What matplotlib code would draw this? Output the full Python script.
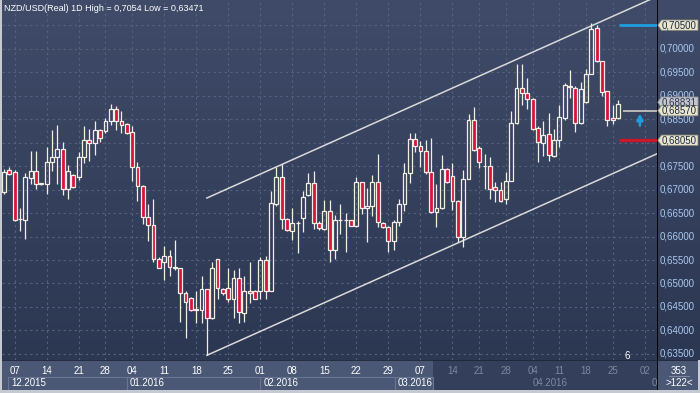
import numpy as np
import matplotlib.pyplot as plt
from matplotlib.patches import Polygon, Rectangle
from matplotlib.colors import LinearSegmentedColormap

# NZD/USD daily candles (Dec 2015 - Apr 2016)
opens = [0.6695, 0.6742, 0.6737, 0.6637, 0.6635, 0.6725, 0.6740, 0.6712, 0.6712, 0.6759,
         0.6770, 0.6787, 0.6701, 0.6731, 0.6727, 0.6770, 0.6806, 0.6800, 0.6827, 0.6825,
         0.6845, 0.6872, 0.6847, 0.6840, 0.6823, 0.6748, 0.6708, 0.6641, 0.6624, 0.6553,
         0.6545, 0.6558, 0.6536, 0.6532, 0.6479, 0.6470, 0.6444, 0.6444, 0.6489, 0.6427,
         0.6553, 0.6489, 0.6491, 0.6466, 0.6511, 0.6438, 0.6483, 0.6485, 0.6483, 0.6549,
         0.6483, 0.6669, 0.6727, 0.6637, 0.6611, 0.6628, 0.6639, 0.6688, 0.6714, 0.6628,
         0.6616, 0.6654, 0.6571, 0.6635, 0.6636, 0.6635, 0.6622, 0.6716, 0.6660, 0.6665,
         0.6716, 0.6628, 0.6620, 0.6590, 0.6631, 0.6669, 0.6735, 0.6808, 0.6793, 0.6783,
         0.6737, 0.6652, 0.6660, 0.6744, 0.6729, 0.6675, 0.6598, 0.6723, 0.6849, 0.6789,
         0.6750, 0.6750, 0.6705, 0.6699, 0.6680, 0.6718, 0.6842, 0.6917, 0.6905, 0.6892,
         0.6832, 0.6800, 0.6819, 0.6772, 0.6806, 0.6853, 0.6920, 0.6917, 0.6842, 0.6887,
         0.6947, 0.7044, 0.6973, 0.6909, 0.6853, 0.6853]
highs = [0.6744, 0.6748, 0.6742, 0.6660, 0.6735, 0.6783, 0.6783, 0.6714, 0.6791, 0.6827,
         0.6838, 0.6802, 0.6752, 0.6733, 0.6780, 0.6836, 0.6830, 0.6845, 0.6830, 0.6853,
         0.6883, 0.6877, 0.6868, 0.6842, 0.6836, 0.6759, 0.6710, 0.6669, 0.6680, 0.6556,
         0.6579, 0.6571, 0.6592, 0.6532, 0.6483, 0.6472, 0.6483, 0.6515, 0.6489, 0.6545,
         0.6553, 0.6491, 0.6534, 0.6528, 0.6532, 0.6515, 0.6545, 0.6487, 0.6556, 0.6558,
         0.6697, 0.6748, 0.6755, 0.6639, 0.6660, 0.6633, 0.6697, 0.6735, 0.6740, 0.6633,
         0.6678, 0.6678, 0.6645, 0.6669, 0.6650, 0.6635, 0.6727, 0.6716, 0.6703, 0.6731,
         0.6776, 0.6631, 0.6622, 0.6635, 0.6680, 0.6757, 0.6821, 0.6821, 0.6804, 0.6806,
         0.6810, 0.6712, 0.6774, 0.6746, 0.6757, 0.6678, 0.6742, 0.6860, 0.6875, 0.6793,
         0.6776, 0.6770, 0.6716, 0.6716, 0.6737, 0.6868, 0.6967, 0.6967, 0.6937, 0.6894,
         0.6836, 0.6847, 0.6864, 0.6830, 0.6879, 0.6926, 0.6954, 0.6920, 0.6928, 0.6956,
         0.7054, 0.7050, 0.6973, 0.6909, 0.6879, 0.6890]
lows = [0.6690, 0.6731, 0.6633, 0.6611, 0.6594, 0.6712, 0.6701, 0.6710, 0.6690, 0.6740,
        0.6712, 0.6688, 0.6680, 0.6703, 0.6720, 0.6757, 0.6761, 0.6774, 0.6802, 0.6821,
        0.6838, 0.6827, 0.6821, 0.6819, 0.6718, 0.6675, 0.6626, 0.6590, 0.6545, 0.6532,
        0.6508, 0.6515, 0.6528, 0.6419, 0.6384, 0.6442, 0.6416, 0.6416, 0.63471, 0.6425,
        0.6468, 0.6476, 0.6461, 0.6427, 0.6416, 0.6419, 0.6459, 0.6466, 0.6466, 0.6468,
        0.6483, 0.6665, 0.6616, 0.6611, 0.6592, 0.6564, 0.6609, 0.6686, 0.6616, 0.6613,
        0.6613, 0.6545, 0.6553, 0.6605, 0.6566, 0.6622, 0.6620, 0.6648, 0.6588, 0.6643,
        0.6620, 0.6618, 0.6566, 0.6571, 0.6622, 0.6654, 0.6714, 0.6780, 0.6748, 0.6733,
        0.6650, 0.6620, 0.6658, 0.6714, 0.6656, 0.6588, 0.6577, 0.6722, 0.6783, 0.6746,
        0.6701, 0.6680, 0.6673, 0.6673, 0.6669, 0.6718, 0.6840, 0.6881, 0.6872, 0.6827,
        0.6759, 0.6772, 0.6761, 0.6770, 0.6791, 0.6849, 0.6896, 0.6823, 0.6840, 0.6885,
        0.6945, 0.6971, 0.6900, 0.6836, 0.6840, 0.6851]
closes = [0.6737, 0.6733, 0.6635, 0.6638, 0.6727, 0.6740, 0.6712, 0.6713, 0.6759, 0.6770,
          0.6787, 0.6701, 0.6740, 0.6705, 0.6770, 0.6806, 0.6800, 0.6827, 0.6810, 0.6845,
          0.6872, 0.6847, 0.6838, 0.6821, 0.6748, 0.6708, 0.6641, 0.6624, 0.6553, 0.6534,
          0.6558, 0.6536, 0.6532, 0.6479, 0.6461, 0.6444, 0.6446, 0.6489, 0.6427, 0.6532,
          0.6491, 0.6479, 0.6466, 0.6511, 0.6440, 0.6483, 0.6479, 0.6468, 0.6549, 0.6483,
          0.6671, 0.6727, 0.6637, 0.6613, 0.6628, 0.6629, 0.6684, 0.6714, 0.6628, 0.6618,
          0.6654, 0.6571, 0.6635, 0.6636, 0.6635, 0.6622, 0.6716, 0.6660, 0.6665, 0.6716,
          0.6631, 0.6620, 0.6590, 0.6631, 0.6669, 0.6735, 0.6808, 0.6793, 0.6783, 0.6737,
          0.6652, 0.6660, 0.6744, 0.6716, 0.6675, 0.6600, 0.6723, 0.6849, 0.6785, 0.6759,
          0.6751, 0.6701, 0.6699, 0.6675, 0.6718, 0.6842, 0.6917, 0.6905, 0.6892, 0.6830,
          0.6802, 0.6817, 0.6774, 0.6806, 0.6855, 0.6922, 0.6919, 0.6842, 0.6915, 0.6947,
          0.7042, 0.6973, 0.6907, 0.6849, 0.6849, 0.6883]

tick_idx = [2, 8, 14, 19, 24, 30, 36, 42, 48, 54, 60, 66, 72, 78, 84, 89, 94, 99, 104, 109, 114, 120]
tick_lab = ['07', '14', '21', '28', '04', '11', '18', '25', '01', '08', '15',
            '22', '29', '07', '14', '21', '28', '04', '11', '18', '25', '02']
month_lab = ['12.2015', '01.2016', '02.2016', '03.2016', '04.2016', '05']
month_start = [0.8, 23, 48, 73.2, 98.5, 120.7]

price_levels = np.arange(0.635, 0.7051, 0.005)

# channel drawn from the Jan low
chan_start = 38
chan_low = 0.63471
chan_high = 0.6682
chan_slope = 0.000509

level_blue = 0.705
level_red = 0.6805
level_grey = 0.6868
level_grey_txt = '0,68570'

n = len(opens)
idx = np.arange(n)
o = np.array(opens); c = np.array(closes); h = np.array(highs); l = np.array(lows)

W, H = 700, 393
fig = plt.figure(figsize=(7, 3.93), dpi=100)
fig.patch.set_facecolor('#c5c9d1')

xlo, xhi = -0.37, 122.3
ylo, yhi = 0.63371, 0.71036

def frac(x0, y0, x1, y1):
    return [x0 / W, 1 - y1 / H, (x1 - x0) / W, (y1 - y0) / H]

ax = fig.add_axes(frac(2, 0, 657, 360))
ax.set_xlim(xlo, xhi)
ax.set_ylim(ylo, yhi)
grad = np.linspace(0, 1, 256).reshape(-1, 1)
cm = LinearSegmentedColormap.from_list('bg', ['#2c3752', '#3f4b68'])
ax.imshow(grad, extent=[xlo, xhi, ylo, yhi], origin='lower', aspect='auto', cmap=cm, zorder=0)
ax.set_xticks([]); ax.set_yticks([])
for s in ax.spines.values():
    s.set_visible(False)

gcol = '#56637f'
for t in tick_idx:
    ax.axvline(t, color=gcol, lw=0.8, dashes=(2, 3), zorder=1)
for p in price_levels:
    ax.axhline(p, color=gcol, lw=0.8, dashes=(2, 3), zorder=1)

wick = '#f3eee4'
top = np.maximum(o, c); bot = np.minimum(o, c)
ax.vlines(idx, top, h, color=wick, lw=0.9, zorder=3)
ax.vlines(idx, l, bot, color=wick, lw=0.9, zorder=3)
fills = ['#d8123c' if cc < oo else 'none' for oo, cc in zip(o, c)]
ax.bar(idx, top - bot, bottom=bot, width=0.72, color=fills, edgecolor=wick, linewidth=0.9, zorder=4)

xs = np.array([chan_start, xhi + 2])
ax.plot(xs, chan_high + chan_slope * (xs - chan_start), color='#d9d9d9', lw=1.1, zorder=2)
ax.plot(xs, chan_low + chan_slope * (xs - chan_start), color='#d9d9d9', lw=1.1, zorder=2)

ax.hlines(level_blue, 115.2, xhi, color='#1e9ee0', lw=2, zorder=5)
ax.hlines(level_red, 115.2, xhi, color='#c8182a', lw=2.4, zorder=5)
ax.hlines(level_grey, 116.0, xhi, color='#b9b9b9', lw=1.4, zorder=5)
ax.annotate('', xy=(119.1, 0.6862), xytext=(119.1, 0.6836),
            arrowprops=dict(arrowstyle='-|>', mutation_scale=9, color='#1e9ee0', lw=1.8,
                            shrinkA=0, shrinkB=0),
            zorder=6)
ax.text(116.7, 0.6345, '6', color='white', fontsize=7, ha='center', va='center', family='Liberation Sans')

fig.text(4 / W, 1 - 8.5 / H, 'NZD/USD(Real) 1D High = 0,7054 Low = 0,63471', color='white',
         fontsize=6.5, va='center', ha='left', family='Liberation Sans')

# price scale on the right
axr = fig.add_axes(frac(657, 0, 700, 360))
axr.set_xlim(0, 43)
axr.set_ylim(ylo, yhi)
axr.imshow(grad, extent=[0, 43, ylo, yhi], origin='lower', aspect='auto', cmap=cm, zorder=0)
axr.set_xticks([]); axr.set_yticks([])
for s in axr.spines.values():
    s.set_visible(False)
axr.axvline(0.3, color='black', lw=1.3)
hidden = [level_blue, 0.680]
for p in price_levels:
    if min(abs(p - q) for q in hidden) < 1e-6:
        continue
    axr.text(2.5, p, f'{p:.5f}'.replace('.', ','), color='#a9c8f2', fontsize=7,
             va='center', ha='left', family='Liberation Sans', zorder=2)

def tag(y, txt, fc, tc, ec):
    d = 0.0011
    pts = [(0.8, y), (4.5, y + d), (41, y + d), (41, y - d), (4.5, y - d)]
    axr.add_patch(Polygon(pts, closed=True, fc=fc, ec=ec, lw=0.6, zorder=3))
    axr.text(5.0, y, txt, color=tc, fontsize=7, va='center', ha='left',
             family='Liberation Sans', zorder=4)

tag(closes[-1] + 0.0003, '0,68831', '#c4c6cb', '#2a3550', '#9a9ca2')
tag(level_grey, level_grey_txt, '#e9e6cf', '#1f2a44', '#8c8a7a')
tag(level_blue, '0,70500', '#e9e6cf', '#1f2a44', '#8c8a7a')
tag(level_red, '0,68050', '#e9e6cf', '#1f2a44', '#8c8a7a')

# time scale at the bottom
axb = fig.add_axes(frac(2, 360, 657, 390))
axb.set_xlim(xlo, xhi)
axb.set_ylim(0, 30)
axb.set_xticks([]); axb.set_yticks([])
for s in axb.spines.values():
    s.set_visible(False)
axb.set_facecolor('#4a5775')
split = 80.4
axb.add_patch(Rectangle((split, 0), xhi - split, 30, fc='#34405b', ec='none', zorder=0))
axb.axhline(30, color='#1c2436', lw=1.2)
for t, lab in zip(tick_idx, tick_lab):
    col = 'white' if t < split else '#7d889f'
    axb.text(t, 18.5, lab, color=col, fontsize=7, ha='center', va='center', family='Liberation Sans')
for i, (m, lab) in enumerate(zip(month_start, month_lab)):
    col = 'white' if m < split else '#7d889f'
    end = month_start[i + 1] if i + 1 < len(month_start) else xhi
    if m < split:
        axb.add_patch(Rectangle((m, 0.5), min(end, split) - m, 12.5, fc='none', ec='#6a7591', lw=0.8, zorder=1))
    axb.text(m + 0.6, 7, lab, color=col, fontsize=7, ha='left', va='center', family='Liberation Sans', zorder=2)

axc = fig.add_axes(frac(657, 360, 698, 390))
axc.set_xlim(0, 41); axc.set_ylim(0, 30)
axc.set_xticks([]); axc.set_yticks([])
for s in axc.spines.values():
    s.set_visible(False)
axc.set_facecolor('#4a5775')
axc.axvline(0.3, color='black', lw=1.3)
axc.axhline(30, color='#1c2436', lw=1.2)
axc.text(22, 19.5, '353', color='white', fontsize=7, ha='center', va='center', family='Liberation Sans')
axc.plot([12, 32], [14, 14], color='#8a94aa', lw=0.6)
axc.text(22, 7, '>122<', color='white', fontsize=7, ha='center', va='center', family='Liberation Sans')

fig.savefig('out.png', dpi=100, facecolor=fig.get_facecolor())
